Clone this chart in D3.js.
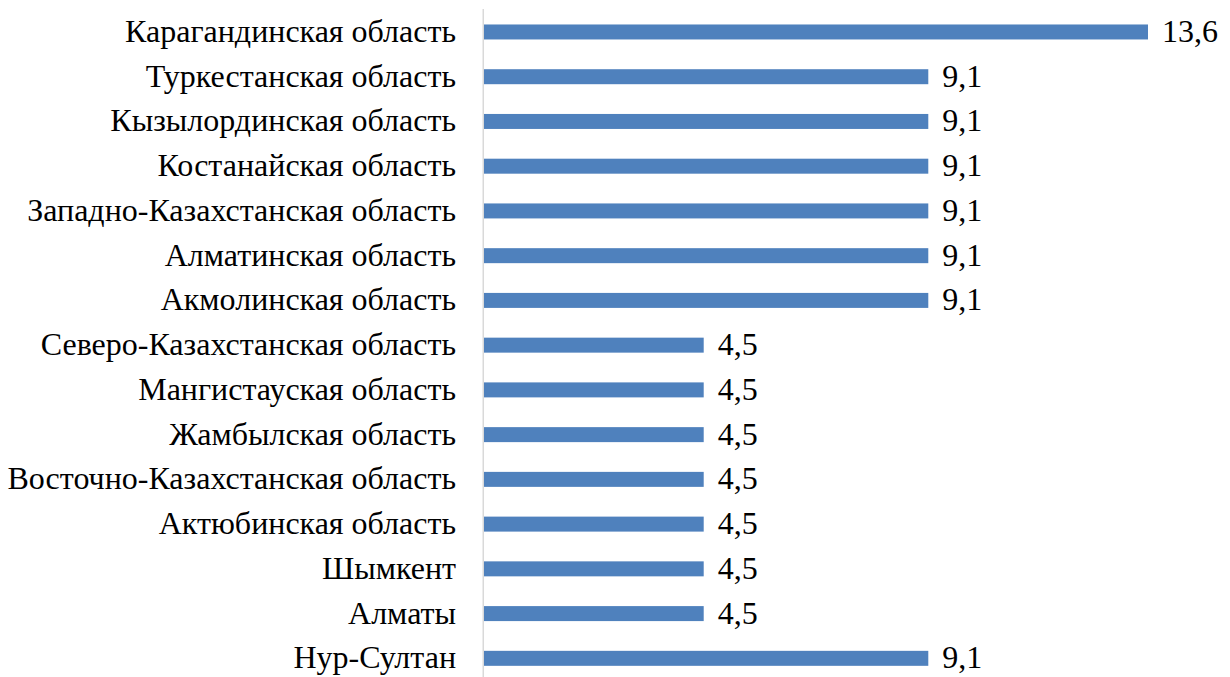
<!DOCTYPE html>
<html><head><meta charset="utf-8">
<script src="https://cdn.jsdelivr.net/npm/d3@7"></script>
<style>body{margin:0;background:#fff;}svg{display:block;}</style>
</head><body>
<svg id="c" width="1230" height="677"></svg>
<script>
const categories = ["Карагандинская область","Туркестанская область","Кызылординская область","Костанайская область","Западно-Казахстанская область","Алматинская область","Акмолинская область","Северо-Казахстанская область","Мангистауская область","Жамбылская область","Восточно-Казахстанская область","Актюбинская область","Шымкент","Алматы","Нур-Султан"];
const values = [13.6,9.1,9.1,9.1,9.1,9.1,9.1,4.5,4.5,4.5,4.5,4.5,4.5,4.5,9.1];

const svg = d3.select("#c");
const x0 = 484;
const x = d3.scaleLinear().domain([0, 13.6]).range([x0, 1148]);
const y = d3.scaleBand().domain(categories).range([9.6, 680.7]).paddingInner(0.665).paddingOuter(0.3325);
const fs = 32;

svg.append("line").attr("x1", x0 - 0.75).attr("x2", x0 - 0.75).attr("y1", 9).attr("y2", 677)
  .attr("stroke", "#d9d9d9").attr("stroke-width", 1.5);

const g = svg.append("g");
g.selectAll("rect").data(values).enter().append("rect")
  .attr("x", x(0)).attr("y", (d,i) => y(categories[i]))
  .attr("width", d => x(d) - x(0)).attr("height", y.bandwidth())
  .attr("fill", "#4f81bd");

const fmt = d => d3.format(".1f")(d).replace(".", ",");
g.selectAll("text.v").data(values).enter().append("text").attr("class","v")
  .attr("x", d => x(d) + 14).attr("y", (d,i) => y(categories[i]) + y.bandwidth()/2 + 10)
  .attr("font-family", "Liberation Serif").attr("font-size", fs).attr("fill", "#000")
  .text(fmt);

g.selectAll("text.c").data(categories).enter().append("text").attr("class","c")
  .attr("x", 456).attr("y", d => y(d) + y.bandwidth()/2 + 10)
  .attr("text-anchor", "end")
  .attr("font-family", "Liberation Serif").attr("font-size", fs).attr("fill", "#000")
  .text(d => d);
</script>
</body></html>
